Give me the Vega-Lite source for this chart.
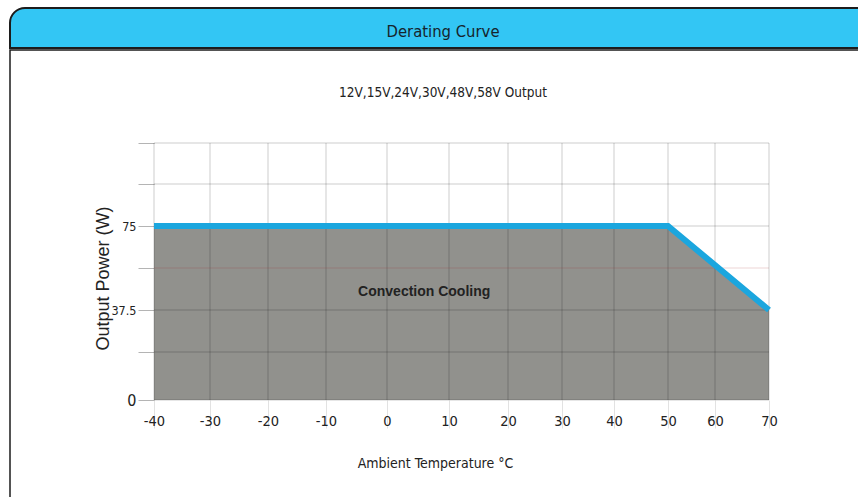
{
  "$schema": "https://vega.github.io/schema/vega-lite/v6.json",
  "padding": {"left": 9, "top": 7, "right": 0, "bottom": 0},
  "background": "white",
  "spacing": 0,
  "config": {"view": {"stroke": null}},
  "datasets": {
    "header": [{"label": "Derating Curve"}],
    "curve": [{"t": -40, "p": 75}, {"t": 50, "p": 75}, {"t": 70, "p": 37.5}],
    "vgrid": [{"t": -40}, {"t": -30}, {"t": -20}, {"t": -10}, {"t": 0}, {"t": 10}, {"t": 20}, {"t": 30}, {"t": 40}, {"t": 50}, {"t": 60}, {"t": 70}],
    "hgrid": [{"p": 0}, {"p": 18.75}, {"p": 37.5}, {"p": 56.25}, {"p": 75}, {"p": 93.75}, {"p": 112.5}],
    "note": [{"label": "Convection Cooling"}]
  },
  "vconcat": [
    {
      "width": 866,
      "height": 40,
      "data": {"name": "header"},
      "layer": [
        {
          "mark": {"type": "rect", "fill": "#33c6f4", "stroke": "#1c1c1c", "strokeWidth": 2, "cornerRadiusTopLeft": 15, "cornerRadiusTopRight": 15}
        },
        {
          "mark": {"type": "text", "font": "DejaVu Sans Condensed", "fontSize": 16.5, "color": "#16242c", "dy": 3.5},
          "encoding": {"text": {"field": "label"}}
        }
      ]
    },
    {
      "width": 866,
      "height": 455,
      "view": {"fill": "white", "stroke": "#1c1c1c", "strokeWidth": 1.5},
      "title": {
        "text": "12V,15V,24V,30V,48V,58V Output",
        "font": "DejaVu Sans Condensed",
        "fontSize": 13.5,
        "fontWeight": "normal",
        "color": "#222222",
        "offset": -56,
        "baseline": "middle",
        "anchor": "middle"
      },
      "layer": [
        {
          "data": {"name": "curve"},
          "mark": {"type": "area", "color": "#91918d", "opacity": 1},
          "encoding": {
            "x": {
              "field": "t",
              "type": "quantitative",
              "title": "Ambient Temperature °C",
              "scale": {
                "domain": [-40, -30, -20, -10, 0, 10, 20, 30, 40, 50, 60, 70],
                "range": [144, 200, 258, 316, 377, 439, 498, 552, 604, 658, 705, 759],
                "zero": false,
                "nice": false
              },
              "axis": {
                "title": "Ambient Temperature °C",
                "values": [-40, -30, -20, -10, 0, 10, 20, 30, 40, 50, 60, 70],
                "labelExpr": "'' + datum.value",
                "offset": -105,
                "domain": false,
                "grid": false,
                "ticks": true,
                "tickSize": 28,
                "tickColor": "#e2e2e2",
                "labelPadding": -6.5,
                "labelBaseline": "middle",
                "labelFont": "DejaVu Sans Condensed",
                "labelFontSize": 14.5,
                "labelColor": "#222222",
                "labelFlush": false,
                "labelOverlap": false,
                "titleFont": "DejaVu Sans Condensed",
                "titleFontSize": 14,
                "titleFontWeight": "normal",
                "titleColor": "#222222",
                "titleX": 425,
                "titleY": 63,
                "titleAlign": "center",
                "titleBaseline": "middle"
              }
            },
            "y": {
              "field": "p",
              "type": "quantitative",
              "title": "Output Power (W)",
              "scale": {
                "domain": [0, 18.75, 37.5, 56.25, 75, 93.75, 112.5],
                "range": [350, 302, 260, 218, 176, 134, 93],
                "zero": false,
                "nice": false
              },
              "axis": {
                "title": "Output Power (W)",
                "values": [0, 18.75, 37.5, 56.25, 75, 93.75, 112.5],
                "labelExpr": "datum.value == 0 || datum.value == 37.5 || datum.value == 75 ? '' + datum.value : ''",
                "offset": -144,
                "domain": false,
                "grid": false,
                "ticks": true,
                "tickSize": 16,
                "tickColor": "#b4b4b4",
                "labelPadding": 2,
                "labelBaseline": "middle",
                "labelFont": "DejaVu Sans Condensed",
                "labelFontSize": {"condition": {"test": "datum.value == 0", "value": 16}, "value": 12.5},
                "labelColor": "#222222",
                "labelFlush": false,
                "labelOverlap": false,
                "titleFont": "Liberation Sans",
                "titleFontSize": 18,
                "titleFontWeight": "normal",
                "titleColor": "#222222",
                "titleAngle": 270,
                "titleX": -51,
                "titleY": 228,
                "titleAlign": "center",
                "titleBaseline": "middle"
              }
            }
          }
        },
        {
          "data": {"name": "vgrid"},
          "mark": {"type": "rule", "color": "#000000", "opacity": 0.2, "strokeWidth": 1},
          "encoding": {
            "x": {"field": "t", "type": "quantitative", "title": "Ambient Temperature °C"},
            "y": {"datum": 0},
            "y2": {"datum": 112.5}
          }
        },
        {
          "data": {"name": "hgrid"},
          "mark": {"type": "rule", "opacity": 0.2, "strokeWidth": 1},
          "encoding": {
            "y": {"field": "p", "type": "quantitative", "title": "Output Power (W)"},
            "x": {"datum": -40},
            "x2": {"datum": 70},
            "color": {"condition": {"test": "datum.p === 56.25", "value": "#a02828"}, "value": "#000000"}
          }
        },
        {
          "data": {"name": "curve"},
          "mark": {"type": "line", "color": "#1ba6de", "strokeWidth": 6},
          "encoding": {
            "x": {"field": "t", "type": "quantitative", "title": "Ambient Temperature °C"},
            "y": {"field": "p", "type": "quantitative", "title": "Output Power (W)"}
          }
        },
        {
          "data": {"name": "note"},
          "mark": {"type": "text", "font": "Liberation Sans", "fontSize": 14, "fontWeight": "bold", "color": "#222222"},
          "encoding": {"x": {"datum": 6}, "y": {"datum": 45.5}, "text": {"field": "label"}}
        }
      ]
    }
  ]
}
